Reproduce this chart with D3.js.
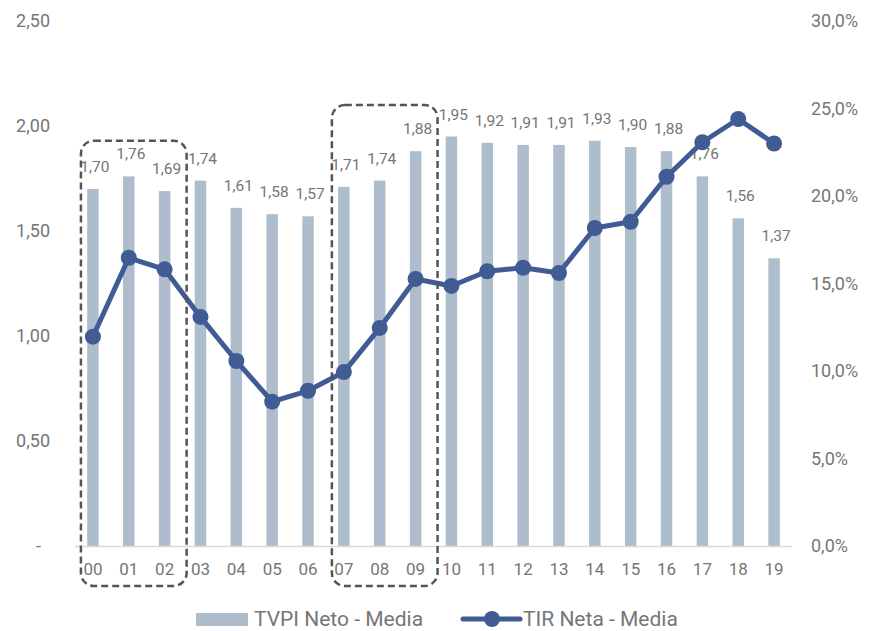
<!DOCTYPE html>
<html>
<head>
<meta charset="utf-8">
<script src="https://cdn.jsdelivr.net/npm/d3@7"></script>
<style>
  body { margin: 0; background: #fff; }
  text { font-family: "Roboto", "Noto Sans", sans-serif; fill: #767676; }
</style>
</head>
<body>
<div id="chart"></div>
<script>
// data
const categories = ["00","01","02","03","04","05","06","07","08","09","10","11","12","13","14","15","16","17","18","19"];
const tvpi = [1.70,1.76,1.69,1.74,1.61,1.58,1.57,1.71,1.74,1.88,1.95,1.92,1.91,1.91,1.93,1.90,1.88,1.76,1.56,1.37];
const tir = [11.96,16.47,15.81,13.09,10.57,8.25,8.87,9.94,12.46,15.26,14.86,15.7,15.9,15.6,18.17,18.53,21.1,23.07,24.4,23.0];
const leftTicks = [0, 0.5, 1, 1.5, 2, 2.5];
const rightTicks = [0, 5, 10, 15, 20, 25, 30];
const legendNames = ["TVPI Neto - Media", "TIR Neta - Media"];
// dashed highlight boxes: first and last vintage, top value on left axis
const boxFrom = ["00", "07"];
const boxTo = ["02", "09"];
const boxTop = [1.93, 2.10];

const W = 877, H = 631;
const barColor = "#adbdcb", lineColor = "#415b95";

const loc = d3.formatLocale({decimal: ",", thousands: ".", grouping: [3], currency: ["", "€"]});
const f2 = loc.format(".2f"), f1 = loc.format(".1f");

const svg = d3.select("#chart").append("svg")
  .attr("width", W).attr("height", H);

const x = d3.scaleBand().domain(categories).range([75, 792]).paddingInner(0.68).paddingOuter(0.34);
const yL = d3.scaleLinear().domain([0, 2.5]).range([546, 21]);
const yR = d3.scaleLinear().domain([0, 30]).range([546, 21]);
const cx = d => x(d) + x.bandwidth() / 2;

// left axis
const axL = svg.append("g").attr("transform", "translate(75,0)")
  .call(d3.axisLeft(yL).tickValues(leftTicks).tickSize(0).tickPadding(25)
    .tickFormat(d => d === 0 ? "-" : f2(d)));
axL.select(".domain").remove();
axL.selectAll("text").style("font-size", "18px").attr("fill", null);
axL.selectAll(".tick").filter(d => d === 0).select("text").attr("x", -34);

// right axis
const axR = svg.append("g").attr("transform", "translate(792,0)")
  .call(d3.axisRight(yR).tickValues(rightTicks).tickSize(0).tickPadding(19)
    .tickFormat(d => f1(d) + "%"));
axR.select(".domain").remove();
axR.selectAll("text").style("font-size", "18px").attr("fill", null);

// bars
svg.append("g").selectAll("rect")
  .data(tvpi)
  .join("rect")
  .attr("x", (d, i) => x(categories[i]))
  .attr("y", d => yL(d))
  .attr("width", x.bandwidth())
  .attr("height", d => yL(0) - yL(d))
  .attr("fill", barColor);

// baseline
svg.append("line")
  .attr("x1", 75).attr("x2", 792)
  .attr("y1", yL(0) + 0.5).attr("y2", yL(0) + 0.5)
  .attr("stroke", "#d9d9d9").attr("stroke-width", 1.5);

// x axis
const axX = svg.append("g").attr("transform", `translate(0,${yL(0)})`)
  .call(d3.axisBottom(x).tickSize(0).tickPadding(17));
axX.select(".domain").remove();
axX.selectAll("text").style("font-size", "17px").attr("fill", null);

// bar labels
svg.append("g").selectAll("text")
  .data(tvpi)
  .join("text")
  .attr("x", (d, i) => cx(categories[i]) + 2)
  .attr("y", d => yL(d) - 22)
  .attr("text-anchor", "middle")
  .attr("dominant-baseline", "central")
  .style("font-size", "15.5px")
  .text(d => f2(d));

// line
const line = d3.line()
  .x((d, i) => cx(categories[i]))
  .y(d => yR(d));

svg.append("path")
  .datum(tir)
  .attr("fill", "none")
  .attr("stroke", lineColor)
  .attr("stroke-width", 5)
  .attr("stroke-linejoin", "round")
  .attr("d", line);

svg.append("g").selectAll("circle")
  .data(tir)
  .join("circle")
  .attr("cx", (d, i) => cx(categories[i]))
  .attr("cy", d => yR(d))
  .attr("r", 8)
  .attr("fill", lineColor);

// dashed boxes
boxFrom.forEach((c, i) => {
  const x0 = cx(c) - 12;
  const x1 = cx(boxTo[i]) + 22;
  const y0 = yL(boxTop[i]);
  const y1 = yL(0) + 40;
  svg.append("rect")
    .attr("x", x0).attr("y", y0)
    .attr("width", x1 - x0).attr("height", y1 - y0)
    .attr("rx", 13).attr("ry", 13)
    .attr("fill", "none")
    .attr("stroke", "#555")
    .attr("stroke-width", 2.5)
    .attr("stroke-dasharray", "7,4");
});

// legend
const lg = svg.append("g");
lg.append("rect").attr("x", 196).attr("y", 613).attr("width", 52).attr("height", 13).attr("fill", barColor);
lg.append("text").attr("x", 254).attr("y", 619).attr("dominant-baseline", "central")
  .style("font-size", "21px").text(legendNames[0]);
lg.append("line").attr("x1", 463).attr("x2", 520).attr("y1", 619).attr("y2", 619)
  .attr("stroke", lineColor).attr("stroke-width", 5).attr("stroke-linecap", "round");
lg.append("circle").attr("cx", 492).attr("cy", 619).attr("r", 8).attr("fill", lineColor);
lg.append("text").attr("x", 523).attr("y", 619).attr("dominant-baseline", "central")
  .style("font-size", "21px").text(legendNames[1]);
</script>
</body>
</html>
